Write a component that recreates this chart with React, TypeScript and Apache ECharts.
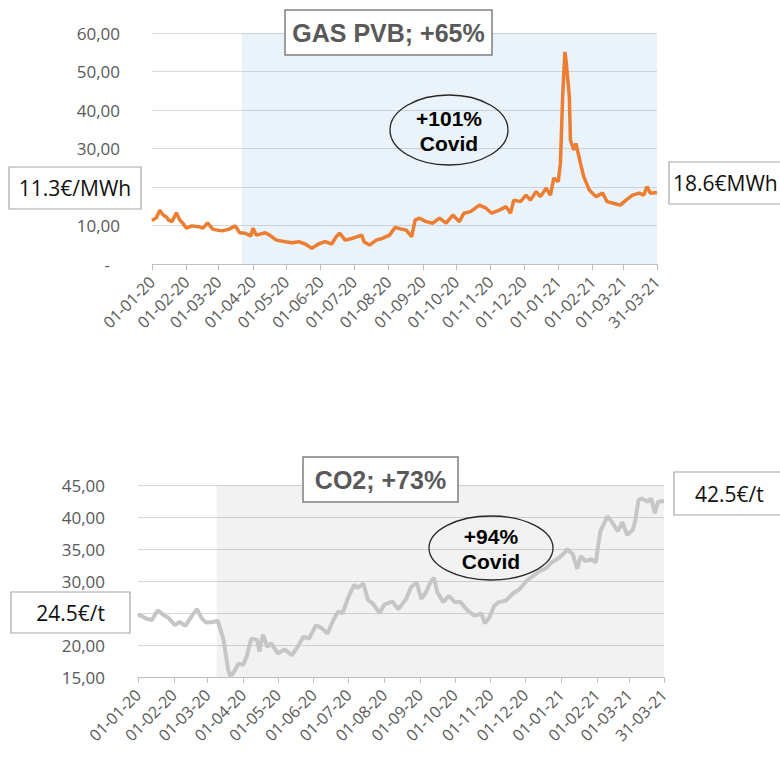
import React, { useEffect, useRef } from "react";
import * as echarts from "echarts";

// Days since 01-01-2020 and values
const gasDay = [0, 4, 7, 10, 13, 15, 18, 22, 25, 28, 31, 36, 42, 46, 50, 55, 63, 69, 75, 79, 84, 89, 91, 94, 102, 106, 112, 120, 126, 132, 138, 144, 150, 156, 162, 166, 169, 174, 181, 189, 191, 196, 202, 208, 214, 219, 223, 229, 234, 237, 241, 247, 253, 259, 265, 271, 277, 281, 287, 295, 301, 306, 313, 319, 323, 326, 332, 337, 341, 346, 350, 355, 359, 362, 366, 368, 370, 372, 373, 376, 377, 380, 382, 386, 389, 394, 400, 406, 410, 418, 422, 427, 433, 439, 443, 446, 449, 455];
const gasValue = [11.3, 12.0, 14.0, 12.7, 12.2, 11.4, 11.0, 13.3, 11.4, 10.5, 9.3, 9.9, 9.7, 9.3, 10.7, 9.0, 8.6, 9.0, 9.9, 8.1, 8.0, 7.3, 9.3, 7.5, 8.1, 7.5, 6.2, 5.8, 5.5, 5.8, 5.2, 4.1, 5.2, 5.8, 5.2, 7.1, 8.0, 6.2, 6.7, 7.5, 5.8, 4.9, 6.2, 6.7, 7.5, 9.5, 9.2, 8.8, 7.1, 11.4, 11.9, 11.0, 10.6, 11.9, 10.6, 12.7, 11.0, 13.2, 13.6, 15.3, 14.5, 13.2, 14.0, 14.9, 13.2, 16.6, 16.2, 17.9, 16.6, 18.8, 17.5, 19.7, 17.9, 22.3, 21.4, 26.2, 43.5, 55.1, 53.0, 43.5, 32.2, 29.6, 31.3, 26.2, 22.7, 19.2, 17.5, 18.4, 16.2, 15.6, 15.3, 16.6, 17.9, 18.4, 17.9, 20.1, 18.4, 18.6];

const co2Day = [0, 2, 6, 12, 17, 22, 26, 32, 36, 41, 46, 51, 55, 59, 65, 69, 74, 78, 80, 84, 87, 91, 94, 98, 103, 105, 108, 112, 115, 121, 127, 133, 138, 143, 148, 154, 159, 164, 169, 173, 177, 182, 187, 190, 195, 199, 203, 209, 213, 220, 225, 229, 232, 236, 241, 245, 249, 253, 256, 259, 264, 269, 274, 279, 285, 291, 297, 300, 304, 308, 312, 318, 324, 330, 336, 341, 347, 353, 358, 364, 369, 371, 376, 380, 383, 387, 392, 396, 398, 400, 406, 410, 415, 419, 423, 428, 430, 433, 436, 441, 444, 447, 450, 455];
const co2Value = [24.5, 24.7, 24.2, 23.9, 25.4, 24.7, 24.3, 23.1, 23.6, 23.0, 24.4, 25.6, 24.2, 23.5, 23.6, 23.8, 20.8, 16.1, 15.0, 16.1, 17.1, 16.9, 18.2, 21.0, 20.8, 19.0, 21.6, 19.7, 20.3, 18.7, 19.3, 18.4, 19.7, 21.3, 21.0, 23.1, 22.6, 21.8, 23.9, 25.2, 25.0, 27.5, 29.4, 28.9, 29.6, 27.0, 26.5, 25.0, 26.3, 26.8, 25.6, 26.5, 27.2, 29.0, 29.8, 27.2, 28.2, 29.8, 30.5, 28.2, 26.7, 27.7, 26.7, 26.7, 25.4, 24.6, 24.9, 23.4, 24.3, 26.1, 26.7, 26.9, 28.0, 28.7, 30.0, 30.7, 31.5, 32.0, 32.9, 33.6, 34.4, 35.0, 34.2, 31.9, 33.9, 33.1, 33.4, 32.9, 35.5, 37.8, 40.1, 39.2, 37.8, 39.2, 37.2, 38.0, 39.3, 42.7, 42.9, 42.4, 42.9, 40.6, 42.4, 42.5];

// Shaded "Covid" periods (day index start)
const gasCovidStart = 81;
const co2CovidStart = 68;

// Y tick values hidden behind the value boxes in the reference
const gasHiddenTick = 20;
const co2HiddenTick = 25;

const startDate = Date.UTC(2020, 0, 1);
const dayCount = 456; // 01-01-20 .. 31-03-21
const pad = (n: number) => (n < 10 ? "0" + n : "" + n);
const days: string[] = [];
for (let i = 0; i < dayCount; i++) {
  const d = new Date(startDate + i * 86400000);
  days.push(pad(d.getUTCDate()) + "-" + pad(d.getUTCMonth() + 1) + "-" + pad(d.getUTCFullYear() % 100));
}

const tickFn = (idx: number, val: string) => val.slice(0, 2) === "01" || idx === dayCount - 1;
const yFmt = (hidden: number) => (v: number) =>
  v === hidden ? "" : v === 0 ? "{d|-}" : v.toFixed(2).replace(".", ",");

const labelColor = "#595959";
const FONT = "Open Sans";

function xAxis(gridIndex: number) {
  return {
    type: "category",
    gridIndex,
    data: days,
    boundaryGap: false,
    axisLine: { show: true, lineStyle: { color: "#bfbfbf", width: 1 } },
    axisTick: { show: true, interval: tickFn, length: 6, lineStyle: { color: "#bfbfbf" } },
    axisLabel: { interval: tickFn, rotate: 45, color: labelColor, fontSize: 16, fontFamily: FONT, margin: 15 },
    splitLine: { show: false },
  };
}

function yAxis(gridIndex: number, min: number, max: number, interval: number, margin: number, hidden: number) {
  return {
    type: "value",
    gridIndex,
    min,
    max,
    interval,
    axisLine: { show: false },
    axisTick: { show: false },
    splitLine: { lineStyle: { color: "#d9d9d9", width: 1 } },
    axisLabel: {
      color: labelColor,
      fontSize: 17,
      fontFamily: FONT,
      margin,
      formatter: yFmt(hidden),
      rich: { d: { color: labelColor, fontSize: 17, fontFamily: FONT, padding: [0, 10, 0, 0] } },
    },
  };
}

function boxText(x: number, y: number, w: number, h: number, text: string, opts: any) {
  return [
    {
      type: "rect",
      z: 100,
      shape: { x, y, width: w, height: h },
      style: { fill: "#ffffff", stroke: opts.stroke || "#a6a6a6", lineWidth: opts.lw || 1.2 },
    },
    {
      type: "text",
      z: 101,
      x: opts.tx !== undefined ? opts.tx : x + w / 2,
      y: y + h / 2,
      style: {
        text,
        fill: opts.color || "#111111",
        fontSize: opts.size || 21,
        fontWeight: opts.weight || "normal",
        fontFamily: opts.family || FONT,
        textAlign: opts.align || "center",
        textVerticalAlign: "middle",
      },
    },
  ];
}

function ellipseText(cx: number, cy: number, rx: number, ry: number, l1: string, l2: string) {
  const t = (y: number, s: string) => ({
    type: "text",
    z: 101,
    x: cx,
    y,
    style: {
      text: s,
      fill: "#000000",
      fontSize: 21,
      fontWeight: "bold",
      fontFamily: "Liberation Sans",
      textAlign: "center",
      textVerticalAlign: "middle",
    },
  });
  return [
    {
      type: "ellipse",
      z: 100,
      shape: { cx, cy, rx, ry },
      style: { fill: "transparent", stroke: "#262626", lineWidth: 1.3 },
    },
    t(cy - 12, l1),
    t(cy + 13, l2),
  ];
}

export default function App() {
  const ref = useRef<HTMLDivElement>(null);
  useEffect(() => {
    if (!ref.current) return;
    const chart = echarts.init(ref.current, undefined, { renderer: "svg" });
    const gasData = gasDay.map((d, i) => [days[d], gasValue[i]]);
    const co2Data = co2Day.map((d, i) => [days[d], co2Value[i]]);
    const titleOpts = { stroke: "#7f7f7f", lw: 1.5, color: "#595959", size: 25, weight: "bold", family: "Liberation Sans" };
    chart.setOption({
      animation: false,
      backgroundColor: "#ffffff",
      grid: [
        { left: 152, top: 33, width: 505, height: 231 },
        { left: 138, top: 485, width: 526, height: 192 },
      ],
      xAxis: [xAxis(0), xAxis(1)],
      yAxis: [yAxis(0, 0, 60, 10, 32, gasHiddenTick), yAxis(1, 15, 45, 5, 33, co2HiddenTick)],
      series: [
        {
          type: "line",
          xAxisIndex: 0,
          yAxisIndex: 0,
          data: gasData,
          showSymbol: false,
          lineStyle: { color: "#ed7d31", width: 3.5 },
          markArea: {
            silent: true,
            itemStyle: { color: "rgba(91,155,213,0.13)" },
            data: [[{ xAxis: days[gasCovidStart] }, { xAxis: days[dayCount - 1] }]],
          },
        },
        {
          type: "line",
          xAxisIndex: 1,
          yAxisIndex: 1,
          data: co2Data,
          showSymbol: false,
          lineStyle: { color: "#c6c6c6", width: 4 },
          markArea: {
            silent: true,
            itemStyle: { color: "rgba(0,0,0,0.05)" },
            data: [[{ xAxis: days[co2CovidStart] }, { xAxis: days[dayCount - 1] }]],
          },
        },
      ],
      graphic: [
        ...boxText(285, 10, 207, 45, "GAS PVB; +65%", titleOpts),
        ...ellipseText(449, 130, 59, 35, "+101%", "Covid"),
        ...boxText(9, 167, 132, 42, "11.3€/MWh", {}),
        ...boxText(669, 162, 125, 42, "18.6€MWh", { tx: 673, align: "left" }),
        ...boxText(303, 457, 155, 45, "CO2; +73%", titleOpts),
        ...ellipseText(491, 548, 62, 32, "+94%", "Covid"),
        ...boxText(11, 592, 119, 41, "24.5€/t", {}),
        ...boxText(674, 472, 125, 43, "42.5€/t", { tx: 695, align: "left" }),
      ],
    });
    return () => chart.dispose();
  }, []);
  return <div ref={ref} style={{ position: "absolute", left: 0, top: 0, width: 780, height: 758 }} />;
}
